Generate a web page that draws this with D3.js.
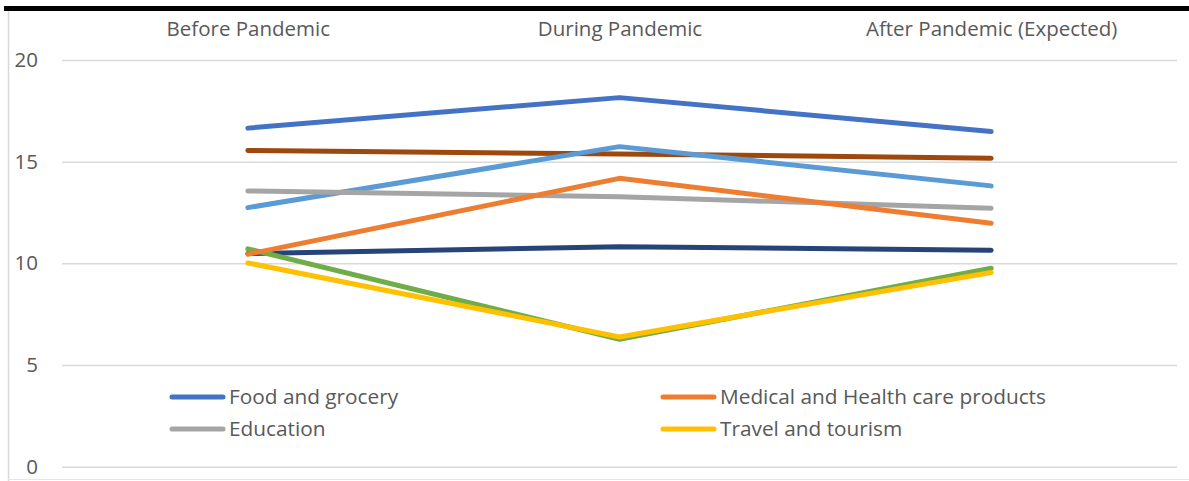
<!DOCTYPE html>
<html>
<head>
<meta charset="utf-8">
<script src="https://cdn.jsdelivr.net/npm/d3@7"></script>
<style>
  html, body { margin: 0; padding: 0; background: #fff; }
  svg { display: block; }
  text { font-family: "Open Sans", "Liberation Sans", sans-serif; fill: #595959; }
</style>
</head>
<body>
<svg id="chart" width="1189" height="481"></svg>
<script>
// Periods shown along the top
const periods = ["Before Pandemic", "During Pandemic", "After Pandemic (Expected)"];

// Series names (only the first four appear in the legend)
const seriesNames = [
  "Food and grocery",
  "Medical and Health care products",
  "Education",
  "Travel and tourism",
  "Series 5",
  "Series 6",
  "Series 7",
  "Series 8"
];

// Values per period for each series
const foodGrocery = [16.65, 18.15, 16.48];
const medicalHealth = [10.45, 14.18, 11.97];
const education = [13.56, 13.28, 12.71];
const travelTourism = [10.02, 6.38, 9.55];
const series5 = [12.74, 15.74, 13.81];
const series6 = [10.71, 6.27, 9.76];
const series7 = [10.48, 10.82, 10.65];
const series8 = [15.55, 15.38, 15.17];

const yTicks = [0, 5, 10, 15, 20];

const seriesValues = [foodGrocery, medicalHealth, education, travelTourism,
                      series5, series6, series7, series8];
const colors = ["#4472C4", "#ED7D31", "#A5A5A5", "#FFC000",
                "#5B9BD5", "#70AD47", "#264478", "#9E480E"];

const FONT = "'Open Sans', 'Liberation Sans', sans-serif";
const FS = 20.5;
const svg = d3.select("#chart");

// Plot frame
const plotLeft = 62, plotRight = 1177, plotTop = 60, plotBottom = 466.7;

const x = d3.scalePoint().domain(periods).range([plotLeft, plotRight]).padding(0.5);
const y = d3.scaleLinear().domain([0, 20]).range([plotBottom, plotTop]);

// Outer borders
svg.append("line").attr("x1", 4).attr("x2", 1189).attr("y1", 8.5).attr("y2", 8.5)
  .attr("stroke", "#000").attr("stroke-width", 5);
svg.append("line").attr("x1", 8.5).attr("x2", 8.5).attr("y1", 11).attr("y2", 481)
  .attr("stroke", "#d9d9d9").attr("stroke-width", 1.5);
svg.append("line").attr("x1", 8).attr("x2", 1189).attr("y1", 479.5).attr("y2", 479.5)
  .attr("stroke", "#e6e6e6").attr("stroke-width", 1);

// Horizontal gridlines and y tick labels
const yAxis = d3.axisLeft(y).tickValues(yTicks).tickSize(-(plotRight - plotLeft)).tickPadding(24);
const gy = svg.append("g").attr("transform", `translate(${plotLeft},0)`).call(yAxis);
gy.select(".domain").remove();
gy.selectAll(".tick line").attr("stroke", "#d9d9d9").attr("stroke-width", 1.5);
gy.selectAll(".tick text").attr("font-size", FS).style("fill", "#595959")
  .style("font-family", FONT);

// Category labels along the top
const xAxis = d3.axisTop(x).tickSize(0).tickPadding(0);
const gx = svg.append("g").attr("transform", "translate(0,36)").call(xAxis);
gx.select(".domain").remove();
gx.selectAll(".tick text").attr("font-size", FS).attr("dy", 0).style("fill", "#595959")
  .style("font-family", FONT);

// Series lines (drawn so the first series ends up on top)
const line = d3.line().x((d, i) => x(periods[i])).y(d => y(d));
const order = [7, 6, 5, 4, 3, 2, 1, 0];
svg.append("g").selectAll("path")
  .data(order)
  .join("path")
  .attr("d", i => line(seriesValues[i]))
  .attr("fill", "none")
  .attr("stroke", i => colors[i])
  .attr("stroke-width", 5)
  .attr("stroke-linecap", "round")
  .attr("stroke-linejoin", "round");

// Legend (two columns, two rows)
const legendPos = [[170, 397], [661, 397], [170, 429], [661, 429]];
const lg = svg.append("g");
[0, 1, 2, 3].forEach(i => {
  const [lx, ly] = legendPos[i];
  lg.append("line").attr("x1", lx + 2).attr("x2", lx + 53).attr("y1", ly).attr("y2", ly)
    .attr("stroke", colors[i]).attr("stroke-width", 5).attr("stroke-linecap", "round");
  lg.append("text").attr("x", lx + 59).attr("y", ly + 7)
    .attr("font-size", 20.8).text(seriesNames[i]);
});
</script>
</body>
</html>
